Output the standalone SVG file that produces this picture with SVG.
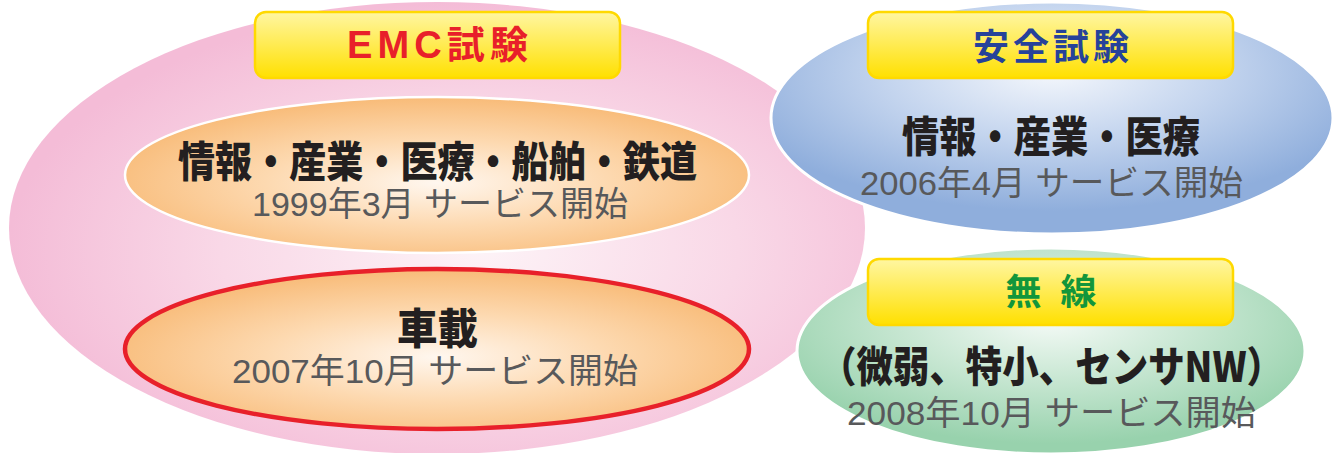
<svg xmlns="http://www.w3.org/2000/svg" width="1334" height="453" viewBox="0 0 1334 453">
<defs>
<radialGradient id="gPink" cx="0.55" cy="0.55" r="0.55">
<stop offset="0" stop-color="#fdf3f7"/>
<stop offset="0.55" stop-color="#f9d8e7"/>
<stop offset="1" stop-color="#f4bcd7"/>
</radialGradient>
<radialGradient id="gOrange" cx="0.5" cy="0.55" r="0.55">
<stop offset="0" stop-color="#fff7ef"/>
<stop offset="0.5" stop-color="#fdd9b0"/>
<stop offset="1" stop-color="#f8bb78"/>
</radialGradient>
<radialGradient id="gBlue" cx="0.5" cy="0.3" r="0.6">
<stop offset="0" stop-color="#f4f7fc"/>
<stop offset="0.5" stop-color="#c3d4ee"/>
<stop offset="1" stop-color="#8faedc"/>
</radialGradient>
<radialGradient id="gGreen" cx="0.5" cy="0.35" r="0.6">
<stop offset="0" stop-color="#f4faf6"/>
<stop offset="0.5" stop-color="#c6e6d1"/>
<stop offset="1" stop-color="#98d2ad"/>
</radialGradient>
<linearGradient id="gYellow" x1="0" y1="0" x2="0" y2="1">
<stop offset="0" stop-color="#fff6a2"/>
<stop offset="1" stop-color="#ffe000"/>
</linearGradient>
<style>
.box{fill:url(#gYellow);stroke:#ffd900;stroke-width:2.5}
.ttl{font-family:"Liberation Sans","Noto Sans CJK JP",sans-serif;font-weight:bold;text-anchor:middle}
.main{font-family:"Noto Sans CJK JP",sans-serif;font-weight:900;font-size:42px;fill:#231f20;text-anchor:start}
.sub{font-family:"Liberation Sans","Noto Sans CJK JP",sans-serif;font-size:34px;fill:#58595b;text-anchor:start}
</style>
</defs>

<g id="emc">
<ellipse cx="437" cy="228" rx="428" ry="226" fill="url(#gPink)"/>
</g>
<g id="safety">
<ellipse cx="1052" cy="118" rx="281" ry="116" fill="url(#gBlue)" stroke="#ffffff" stroke-width="3"/>
<rect class="box" x="868" y="12" width="365" height="66" rx="11"/>
<text class="ttl" x="1051" y="60" font-size="36" fill="#26429a" textLength="156" lengthAdjust="spacing">安全試験</text>
<text class="main" x="902" y="152" textLength="298" lengthAdjust="spacingAndGlyphs">情報・産業・医療</text>
<text class="sub" x="860" y="195" textLength="383" lengthAdjust="spacingAndGlyphs">2006年4月 サービス開始</text>
</g>
<g id="wireless">
<ellipse cx="1051" cy="351" rx="254" ry="103" fill="url(#gGreen)" stroke="#ffffff" stroke-width="3"/>
<rect class="box" x="868" y="259" width="365" height="66" rx="11"/>
<text class="ttl" x="1051" y="305" font-size="36" fill="#12963b" textLength="91" lengthAdjust="spacing">無　線</text>
<text class="main" x="820" y="382" textLength="463" lengthAdjust="spacingAndGlyphs">（微弱、特小、センサNW）</text>
<text class="sub" x="847" y="425" textLength="409" lengthAdjust="spacingAndGlyphs">2008年10月 サービス開始</text>
</g>
<g id="emc-general">
<ellipse cx="437" cy="175" rx="312" ry="78" fill="url(#gOrange)" stroke="#ffffff" stroke-width="2.5"/>
<text class="main" x="178" y="177" textLength="519" lengthAdjust="spacingAndGlyphs">情報・産業・医療・船舶・鉄道</text>
<text class="sub" x="252" y="216" textLength="376" lengthAdjust="spacingAndGlyphs">1999年3月 サービス開始</text>
</g>
<g id="emc-auto">
<ellipse cx="437" cy="349" rx="312" ry="80" fill="url(#gOrange)" stroke="#e8202a" stroke-width="4.5"/>
<text class="main" x="397" y="344" textLength="81" lengthAdjust="spacingAndGlyphs">車載</text>
<text class="sub" x="232" y="383" textLength="406" lengthAdjust="spacingAndGlyphs">2007年10月 サービス開始</text>
</g>
<g id="emc-label">
<rect class="box" x="255" y="12" width="365" height="66" rx="11"/>
<text class="ttl" x="437.5" y="58" font-size="38" fill="#e8202a" textLength="181" lengthAdjust="spacing">EMC試験</text>
</g>
<g id="connectors"/>
</svg>
